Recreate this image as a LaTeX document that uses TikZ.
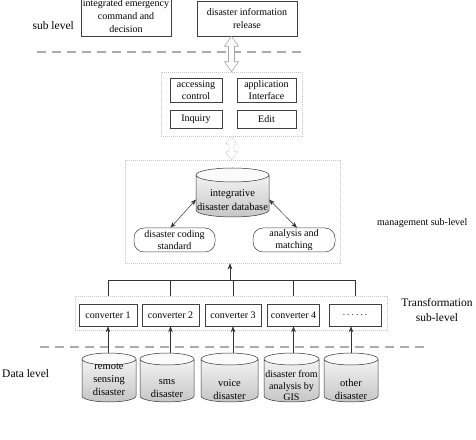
\documentclass[tikz,border=0pt]{standalone}
\usepackage{fontspec}
\setmainfont{Liberation Serif}
\usetikzlibrary{arrows.meta,calc}
\newcommand\cylshape[5]{%
  \shade[top color=gray!4, bottom color=gray!45] (#1-#4,#2-#5) -- (#1-#4,#3+#5) arc[start angle=180,end angle=360,x radius=#4,y radius=#5] -- (#1+#4,#2-#5) arc[start angle=0,end angle=180,x radius=#4,y radius=#5] -- cycle;
  \fill[gray!4] (#1,#2-#5) ellipse[x radius=#4,y radius=#5];
  \draw[black!80, line width=0.5pt] (#1-#4,#2-#5) -- (#1-#4,#3+#5) arc[start angle=180,end angle=360,x radius=#4,y radius=#5] -- (#1+#4,#2-#5) arc[start angle=0,end angle=180,x radius=#4,y radius=#5] arc[start angle=180,end angle=360,x radius=#4,y radius=#5];
}
% hollow double arrow between two vertically aligned points: top, bottom, head length, head half width, shaft half width
\newcommand\hollowarrow[6]{%
  \draw[#6] let \p1=#1, \p2=#2 in
    (\x1,\y1) -- (\x1+#4,\y1-#3) -- (\x1+#5,\y1-#3) -- (\x1+#5,\y2+#3) -- (\x1+#4,\y2+#3) -- (\x1,\y2)
    -- (\x1-#4,\y2+#3) -- (\x1-#5,\y2+#3) -- (\x1-#5,\y1-#3) -- (\x1-#4,\y1-#3) -- cycle;
}
\tikzset{
  box/.style={draw=black!75, line width=0.5pt, align=center, inner sep=1pt, font=\fontsize{10}{11.5}\selectfont},
  rbox/.style={box, rounded corners=10pt},
  container/.style={draw=gray!45, dash pattern=on 1.2pt off 0.8pt, line width=0.5pt, inner sep=0},
  sepline/.style={gray!65, line width=2.4pt, dash pattern=on 9pt off 6pt},
  conn/.style={black!80, line width=0.5pt},
  arr/.style={conn, -{Stealth[length=6pt,width=4.5pt]}},
  darr/.style={conn, {Stealth[length=6pt,width=4.5pt]}-{Stealth[length=6pt,width=4.5pt]}},
  hollowbig/.style={draw=gray!70, fill=white, line width=0.6pt, line join=miter},
  hollowsmall/.style={draw=gray!45, fill=white, line width=0.5pt, dash pattern=on 2pt off 1pt},
  lvl/.style={font=\fontsize{11.5}{15}\selectfont, inner sep=0, align=center},
  cylbox/.style={inner sep=0, outer sep=0},
  cyltext/.style={align=center, inner sep=0, font=\fontsize{10.5}{13}\selectfont}
}
\begin{document}
\begin{tikzpicture}[x=1pt,y=1pt]
\useasboundingbox (0,0) rectangle (476,439);
\clip (0,0) rectangle (476,439);

% separators
\draw[sepline] (37,387) -- (302,387);
\draw[sepline] (40,92) -- (425,92);

% application level
\node[box, minimum width=90pt, minimum height=39pt, font=\fontsize{10}{13}\selectfont] (cmd) at (126,422.5) {integrated emergency\\command and\\decision};
\node[box, minimum width=100pt, minimum height=35pt, font=\fontsize{10}{13}\selectfont] (rel) at (247,420.5) {disaster information\\release};
\node[lvl, anchor=east] (lvlA) at (74,413) {sub level};

% block A
\node[container, minimum width=141pt, minimum height=64pt] (contA) at (231.5,335) {};
\node[box, minimum width=52pt, minimum height=24pt] (acc) at (196,349) {accessing\\control};
\node[box, minimum width=59pt, minimum height=24pt] (api) at (266.5,349) {application\\Interface};
\node[box, minimum width=52pt, minimum height=18pt] (inq) at (196,320) {Inquiry};
\node[box, minimum width=59pt, minimum height=18pt] (edit) at (266.5,320) {Edit};

% block B
\node[container, minimum width=215pt, minimum height=103pt] (contB) at (232.5,227.5) {};
\cylshape{232.5}{271}{222}{36.5}{7}
\node[cylbox, minimum width=73pt, minimum height=49pt] (db) at (232.5,246.5) {};
\node[cyltext, font=\fontsize{10.5}{14}\selectfont] (dbt) at (232.5,239) {integrative\\disaster database};
\node[rbox, minimum width=81pt, minimum height=24pt] (code) at (174.5,199) {disaster coding\\standard};
\node[rbox, minimum width=82pt, minimum height=24pt] (anal) at (294,199) {analysis and\\matching};
\draw[darr] ([yshift=-7pt]db.west) -- ([xshift=-4pt]code.north);
\draw[darr] ([yshift=-7pt]db.east) -- ([xshift=3pt]anal.north);
\node[lvl, anchor=west, font=\fontsize{10}{13}\selectfont] (lvlB) at (377,216) {management sub-level};

\hollowarrow{(rel.south -| contA.north)}{(contA.north)}{10}{7}{3}{hollowbig}
\hollowarrow{(contA.south)}{(contB.north)}{8}{6}{2.5}{hollowsmall}

% block C
\node[container, minimum width=312pt, minimum height=34pt] (contC) at (231,126) {};
\node[box, minimum width=58pt, minimum height=22pt] (c1) at (108,124) {converter 1};
\node[box, minimum width=57pt, minimum height=22pt] (c2) at (170.5,124) {converter 2};
\node[box, minimum width=56pt, minimum height=22pt] (c3) at (233,124) {converter 3};
\node[box, minimum width=52pt, minimum height=22pt] (c4) at (293.5,124) {converter 4};
\node[box, minimum width=52pt, minimum height=22pt] (c5) at (355,124) {$\cdots\cdots$};
\node[lvl] (lvlC) at (437,128.5) {Transformation\\sub-level};

\coordinate (bus) at (230,159);
\draw[arr] (bus) -- (bus |- contB.south);
\draw[conn] (c1 |- bus) -- (c5 |- bus);
\foreach \c in {c1,c2,c3,c4,c5} \draw[conn] (\c |- bus) -- (\c |- contC.north);

% data level
\cylshape{109}{86}{37}{27}{6}
\cylshape{167}{86}{37}{27}{6}
\cylshape{229.5}{86}{37}{28.5}{6}
\cylshape{291.5}{86}{37}{27.5}{6}
\cylshape{351}{86}{37}{27}{6}
\node[cylbox, minimum width=54pt, minimum height=49pt] (d1) at (109,61.5) {};
\node[cylbox, minimum width=54pt, minimum height=49pt] (d2) at (167,61.5) {};
\node[cylbox, minimum width=57pt, minimum height=49pt] (d3) at (229.5,61.5) {};
\node[cylbox, minimum width=55pt, minimum height=49pt] (d4) at (291.5,61.5) {};
\node[cylbox, minimum width=54pt, minimum height=49pt] (d5) at (351,61.5) {};
\node[cyltext] (d1t) at (109,59) {remote\\sensing\\disaster};
\node[cyltext] (d2t) at (167,50.5) {sms\\disaster};
\node[cyltext] (d3t) at (229.5,49.5) {voice\\disaster};
\node[cyltext, font=\fontsize{10}{11.5}\selectfont] (d4t) at (291.5,53) {disaster from\\analysis by\\GIS};
\node[cyltext] (d5t) at (351,49.5) {other\\disaster};
\node[lvl, anchor=west] (lvlD) at (2,65) {Data level};

\draw[arr] (d1.north -| c1) -- (c1.south);
\draw[arr] (d2.north -| c2) -- (c2.south);
\draw[arr] (d3.north -| c3) -- (c3.south);
\draw[arr] (d4.north -| c4) -- (c4.south);
\draw[arr] (d5.north) -- (d5.north |- c5.south);
\end{tikzpicture}
\end{document}
